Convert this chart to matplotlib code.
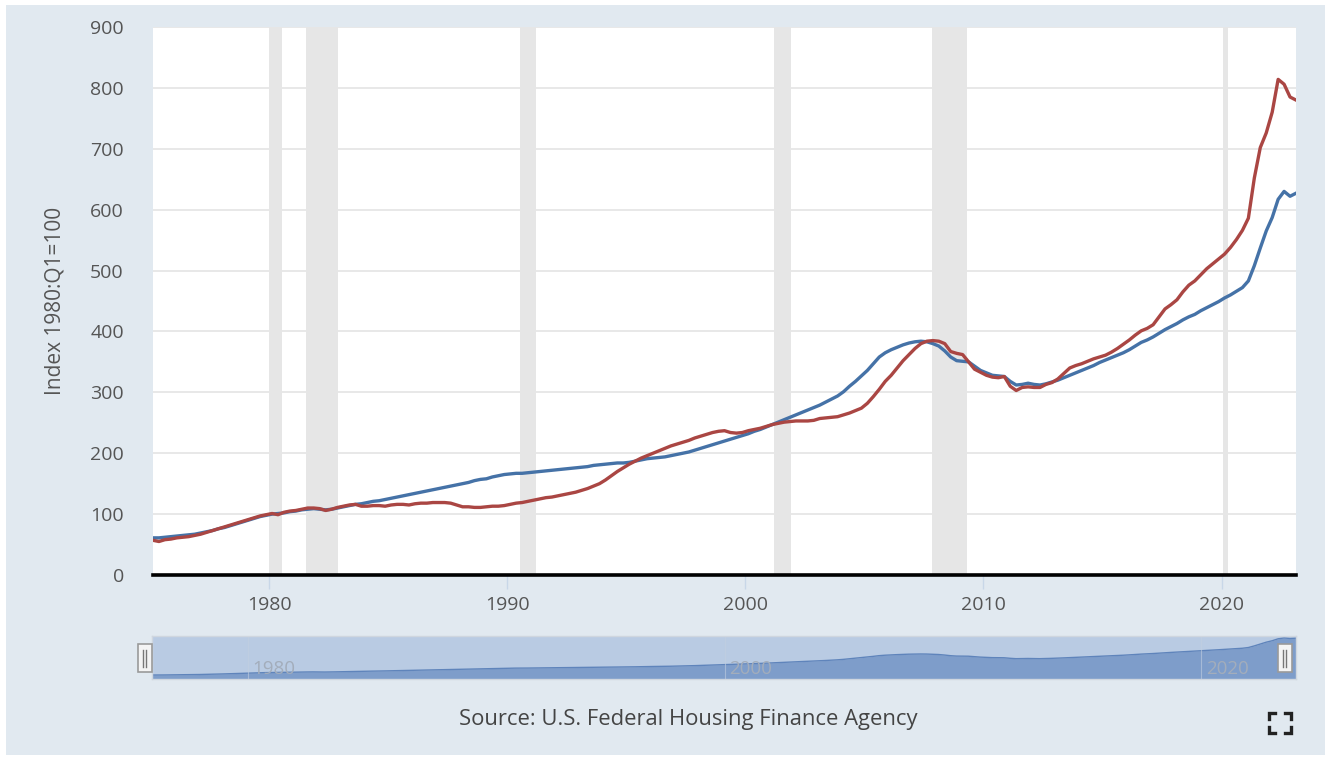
import numpy as np
import matplotlib.pyplot as plt
from matplotlib.patches import Rectangle
from matplotlib.lines import Line2D

plt.rcParams['font.family'] = ['Open Sans', 'DejaVu Sans']

# quarterly index values, 1975Q1 .. 2023Q1 (one row per year)
us_hpi = [
    61, 61, 62, 63,
    64, 65, 66, 67,
    69, 71, 73, 76,
    78, 81, 84, 87,
    90, 93, 96, 98,
    100, 101, 102, 104,
    105, 107, 108, 109,
    108, 107, 108, 110,
    112, 114, 116, 117,
    119, 121, 122, 124,
    126, 128, 130, 132,
    134, 136, 138, 140,
    142, 144, 146, 148,
    150, 152, 155, 157,
    158, 161, 163, 165,
    166, 167, 167, 168,
    169, 170, 171, 172,
    173, 174, 175, 176,
    177, 178, 180, 181,
    182, 183, 184, 184,
    185, 187, 189, 191,
    192, 193, 194, 196,
    198, 200, 202, 205,
    208, 211, 214, 217,
    220, 223, 226, 229,
    232, 236, 239, 243,
    247, 251, 255, 259,
    263, 267, 271, 275,
    279, 284, 289, 294,
    301, 310, 318, 327,
    336, 347, 358, 365,
    370, 374, 378, 381,
    383, 384, 383, 380,
    376, 368, 358, 352,
    351, 350, 343, 336,
    332, 328, 327, 326,
    318, 312, 313, 315,
    313, 312, 314, 317,
    320, 324, 328, 332,
    336, 340, 344, 349,
    353, 357, 361, 365,
    370, 376, 382, 386,
    391, 397, 403, 408,
    413, 419, 424, 428,
    434, 439, 444, 449,
    455, 460, 466, 472,
    483, 508, 537, 565,
    587, 617, 630, 622,
    627,
]

state_hpi = [
    57, 55, 58, 59,
    61, 62, 63, 65,
    67, 70, 73, 76,
    79, 82, 85, 88,
    91, 94, 97, 99,
    101, 99, 103, 105,
    106, 108, 110, 110,
    109, 106, 108, 111,
    113, 115, 116, 113,
    113, 114, 114, 113,
    115, 116, 116, 115,
    117, 118, 118, 119,
    119, 119, 118, 115,
    112, 112, 111, 111,
    112, 113, 113, 114,
    116, 118, 119, 121,
    123, 125, 127, 128,
    130, 132, 134, 136,
    139, 142, 146, 150,
    156, 163, 170, 176,
    182, 187, 192, 196,
    200, 204, 208, 212,
    215, 218, 221, 225,
    228, 231, 234, 236,
    237, 234, 233, 234,
    237, 239, 241, 244,
    247, 249, 251, 252,
    253, 253, 253, 254,
    257, 258, 259, 260,
    263, 266, 270, 274,
    282, 293, 305, 318,
    328, 340, 352, 362,
    372, 380, 384, 385,
    384, 380, 367, 364,
    362, 350, 338, 333,
    328, 325, 324, 326,
    310, 303, 308, 309,
    308, 308, 313, 316,
    322, 331, 340, 344,
    347, 351, 355, 358,
    361, 366, 372, 379,
    386, 394, 401, 405,
    411, 424, 437, 444,
    452, 465, 476, 483,
    493, 503, 511, 519,
    527, 538, 551, 566,
    586, 652, 702, 726,
    760, 814, 806, 785,
    780,
]

recessions = [(1980.0, 1980.55), (1981.55, 1982.9), (1990.55, 1991.2),
              (2001.2, 2001.9), (2007.85, 2009.3), (2020.08, 2020.28)]

year_ticks = [1980, 1990, 2000, 2010, 2020]
nav_ticks = [1980, 2000, 2020]
y_ticks = list(range(0, 1000, 100))

t = 1975.125 + 0.25 * np.arange(len(us_hpi))

blue = '#4572a7'
red = '#aa4643'
bg = '#e1e9f0'

fig = plt.figure(figsize=(13.3, 7.59), dpi=100)
fig.patch.set_facecolor('white')
fig.patches.append(Rectangle((6 / 1330, 1 - 755 / 759), 1319 / 1330, 750 / 759,
                             transform=fig.transFigure, facecolor=bg,
                             edgecolor='none', zorder=-10))

# main chart
ax = fig.add_axes([153 / 1330, 1 - 575 / 759, 1143 / 1330, 548 / 759])
ax.set_facecolor('white')
for a, b in recessions:
    ax.axvspan(a, b, color='#e6e6e6', lw=0, zorder=0)
ax.plot(t, us_hpi, color=blue, lw=2.4, zorder=3)
ax.plot(t, state_hpi, color=red, lw=2.4, zorder=4)

ax.set_xlim(t[0], t[-1])
ax.set_ylim(0, 900)
ax.set_yticks(y_ticks)
ax.set_xticks(year_ticks)
ax.grid(axis='y', color='#e6e6e6', lw=1.3, zorder=1)
for s in ['top', 'right', 'left']:
    ax.spines[s].set_visible(False)
ax.spines['bottom'].set_color('black')
ax.spines['bottom'].set_linewidth(2.6)
ax.spines['bottom'].set_zorder(5)
ax.tick_params(axis='y', length=0, pad=21, labelsize=14, labelcolor='#555555')
ax.tick_params(axis='x', length=10, width=1, color='#c8d7e8', pad=5,
               labelsize=14, labelcolor='#555555')
ax.set_ylabel('Index 1980:Q1=100', fontsize=15, color='#555555', labelpad=18)

# navigator
nav = fig.add_axes([152 / 1330, 1 - 679 / 759, 1144 / 1330, 43 / 759])
nav.set_facecolor('#b9cbe3')
nav.fill_between(t, 0, us_hpi, color='#7e9dca', lw=0)
nav.plot(t, us_hpi, color='#5f84bb', lw=1)
nav.set_xlim(t[0], t[-1])
nav.set_ylim(0, 660)
nav.set_xticks([])
nav.set_yticks([])
for yr in nav_ticks:
    nav.axvline(yr - 0.85, color='#c2cfe0', lw=0.8, alpha=0.6)
    nav.text(yr - 0.65, 8, str(yr), fontsize=13.5, color='#a3adbb', va='bottom', ha='left')
for s in nav.spines.values():
    s.set_color('#cfd6df')
    s.set_linewidth(1)

# navigator handles
for hx in [137.5, 1277.5]:
    fig.patches.append(Rectangle((hx / 1330, 1 - 672 / 759), 14 / 1330, 28 / 759,
                                 transform=fig.transFigure, facecolor='#f4f4f4',
                                 edgecolor='#9a9a9a', lw=1.2, zorder=10))
    for dx in [5.5, 8.5]:
        fig.lines.append(Line2D([(hx + dx) / 1330] * 2, [1 - 667 / 759, 1 - 650 / 759],
                                transform=fig.transFigure, color='#777777', lw=1, zorder=11))

fig.text(688 / 1330, 1 - 720 / 759, 'Source: U.S. Federal Housing Finance Agency',
         ha='center', va='center', fontsize=15.8, color='#444444')

# fullscreen icon
cx0, cx1, cy0, cy1, arm = 1269, 1291, 713, 733, 6
W, H = 1330, 759
for (x, y, sx, sy) in [(cx0, cy0, 1, 1), (cx1, cy0, -1, 1), (cx0, cy1, 1, -1), (cx1, cy1, -1, -1)]:
    fig.lines.append(Line2D([x / W, x / W, (x + sx * arm) / W],
                            [1 - (y + sy * arm) / H, 1 - y / H, 1 - y / H],
                            transform=fig.transFigure, color='#222222', lw=2.4,
                            solid_joinstyle='miter'))

fig.savefig('out.png', dpi=100)
